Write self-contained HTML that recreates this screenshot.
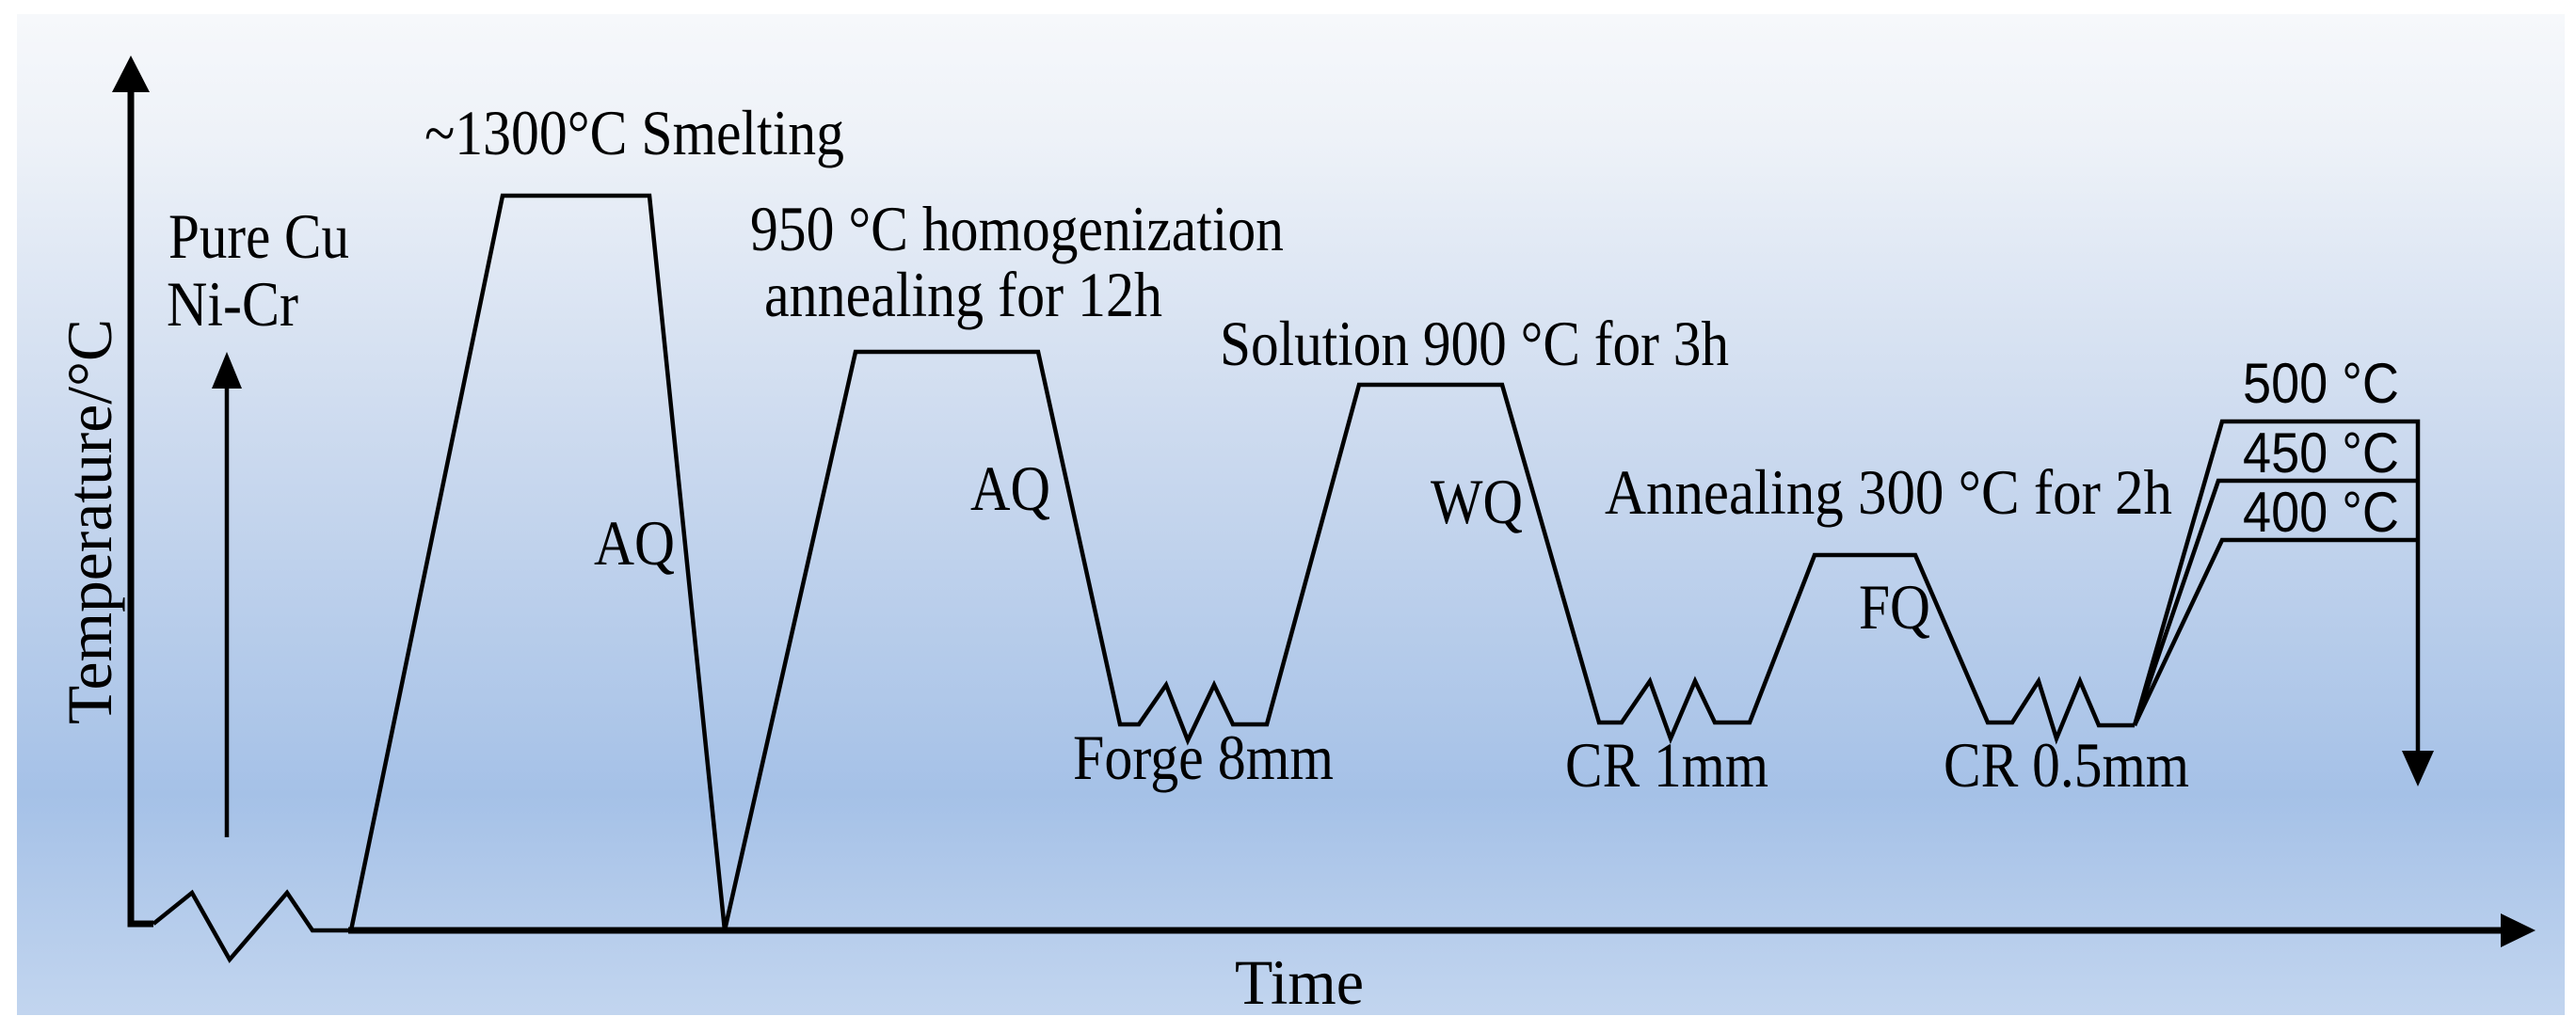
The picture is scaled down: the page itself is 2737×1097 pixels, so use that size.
<!DOCTYPE html>
<html><head><meta charset="utf-8"><style>
html,body{margin:0;padding:0;background:#fff;}
svg{display:block;}
text{font-family:"Liberation Serif",serif;fill:#000;}
.s{font-family:"Liberation Sans",sans-serif;}
</style></head><body>
<svg width="2737" height="1097" viewBox="0 0 2737 1097">
<defs><linearGradient id="bg" x1="0" y1="0" x2="0" y2="1">
<stop offset="0" stop-color="#f6f8fb"/><stop offset="0.12" stop-color="#eef2f8"/>
<stop offset="0.45" stop-color="#c9d8ee"/><stop offset="0.78" stop-color="#a5c1e7"/>
<stop offset="1" stop-color="#c2d5ef"/></linearGradient></defs>
<rect x="18" y="15" width="2707" height="1064" fill="url(#bg)"/>
<g fill="none" stroke="#000" stroke-linejoin="miter">
<polyline points="139,95 139,982 163,982" stroke-width="7"/>
<line x1="370" y1="989" x2="2660" y2="989" stroke-width="7"/>
<polyline stroke-width="4.5" points="163,982 204,949 244,1020 305,949 332,989 373,989 534,208 690,208 770,989 909,374 1103,374 1190,770 1210,770 1239,728 1262,787 1290,728 1310,770 1346,770 1444,409 1596,409 1699,768 1723,768 1753,724 1775,785 1801,724 1822,768 1859,768 1928,590 2035,590 2112,768 2138,768 2166,724 2185,785 2210,724 2230,771 2268,771"/>
<polyline stroke-width="4.5" points="2268,771 2361,448 2569,448 2569,800"/>
<polyline stroke-width="4.5" points="2268,771 2357,511 2569,511"/>
<polyline stroke-width="4.5" points="2268,771 2361,574 2569,574"/>
<line x1="241" y1="890" x2="241" y2="410" stroke-width="4.5"/>
</g>
<g fill="#000">
<polygon points="139,59 119,98 159,98"/>
<polygon points="2694,989 2657,971 2657,1007"/>
<polygon points="241,374 225,413 257,413"/>
<polygon points="2569,836 2552,798 2586,798"/>
</g>
<g font-size="68">
<text x="451" y="164" textLength="446" lengthAdjust="spacingAndGlyphs">~1300°C Smelting</text>
<text x="179" y="274" textLength="192" lengthAdjust="spacingAndGlyphs">Pure Cu</text>
<text x="177" y="346" textLength="140" lengthAdjust="spacingAndGlyphs">Ni-Cr</text>
<text x="797" y="266" textLength="567" lengthAdjust="spacingAndGlyphs">950 °C homogenization</text>
<text x="812" y="336" textLength="423" lengthAdjust="spacingAndGlyphs">annealing for 12h</text>
<text x="1296" y="388" textLength="541" lengthAdjust="spacingAndGlyphs">Solution 900 °C for 3h</text>
<text x="631" y="600" textLength="86" lengthAdjust="spacingAndGlyphs">AQ</text>
<text x="1031" y="542" textLength="85" lengthAdjust="spacingAndGlyphs">AQ</text>
<text x="1140" y="828" textLength="277" lengthAdjust="spacingAndGlyphs">Forge 8mm</text>
<text x="1520" y="556" textLength="98" lengthAdjust="spacingAndGlyphs">WQ</text>
<text x="1705" y="546" textLength="603" lengthAdjust="spacingAndGlyphs">Annealing 300 °C  for 2h</text>
<text x="1975" y="668" textLength="76" lengthAdjust="spacingAndGlyphs">FQ</text>
<text x="1663" y="836" textLength="216" lengthAdjust="spacingAndGlyphs">CR 1mm</text>
<text x="2065" y="836" textLength="261" lengthAdjust="spacingAndGlyphs">CR 0.5mm</text>
<text x="1312" y="1067" textLength="137" lengthAdjust="spacingAndGlyphs">Time</text>
<text transform="translate(118,770) rotate(-90)" x="0" y="0" textLength="431" lengthAdjust="spacingAndGlyphs">Temperature/°C</text>
</g>
<g font-size="60" class="s">
<text class="s" x="2383" y="428" textLength="166" lengthAdjust="spacingAndGlyphs">500 °C</text>
<text class="s" x="2383" y="502" textLength="166" lengthAdjust="spacingAndGlyphs">450 °C</text>
<text class="s" x="2383" y="565" textLength="166" lengthAdjust="spacingAndGlyphs">400 °C</text>
</g>
</svg>
</body></html>
